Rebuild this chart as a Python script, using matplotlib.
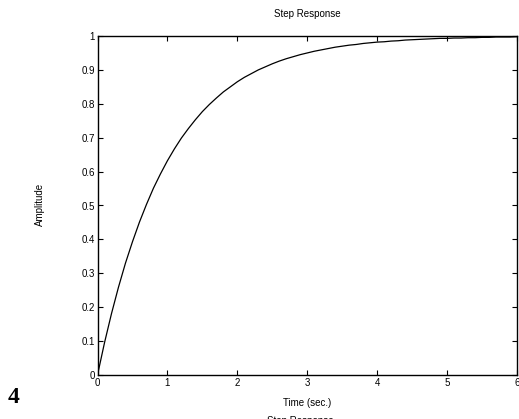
import numpy as np
import matplotlib
matplotlib.use("Agg")
import matplotlib.pyplot as plt

plt.rcParams['font.family'] = ['Liberation Sans', 'DejaVu Sans']

time = np.linspace(0, 6, 61)
amplitude = [0.0, 0.095, 0.181, 0.259, 0.330, 0.393, 0.451, 0.503, 0.551, 0.593,
             0.632, 0.667, 0.699, 0.727, 0.753, 0.777, 0.798, 0.817, 0.835, 0.850,
             0.865, 0.878, 0.889, 0.900, 0.909, 0.918, 0.926, 0.933, 0.939, 0.945,
             0.950, 0.955, 0.959, 0.963, 0.967, 0.970, 0.973, 0.975, 0.978, 0.980,
             0.982, 0.983, 0.985, 0.986, 0.988, 0.989, 0.990, 0.991, 0.992, 0.993,
             0.993, 0.994, 0.994, 0.995, 0.995, 0.996, 0.996, 0.997, 0.997, 0.997,
             0.998]
xticks = [0, 1, 2, 3, 4, 5, 6]
xticklabels = ['0', '1', '2', '3', '4', '5', '6']
yticks = [0, 0.1, 0.2, 0.3, 0.4, 0.5, 0.6, 0.7, 0.8, 0.9, 1.0]
yticklabels = ['0', '0.1', '0.2', '0.3', '0.4', '0.5', '0.6', '0.7', '0.8', '0.9', '1']

fig = plt.figure(figsize=(5.19, 4.19), dpi=100)
ax = fig.add_axes([97.5/519, 44/419, 419.5/519, 339/419])
ax.plot(time, amplitude, color='black', lw=0.9)
ax.set_xlim(0, 6)
ax.set_ylim(0, 1)
ax.set_xticks(xticks)
ax.set_xticklabels(xticklabels)
ax.set_yticks(yticks)
ax.set_yticklabels(yticklabels)
ax.tick_params(direction='in', length=3.5, width=0.8, labelsize=7, pad=2,
               top=True, right=True, colors='black')
for s in ax.spines.values():
    s.set_linewidth(1.0)

fig.text(307/519, 1 - 14/419, 'Step Response', ha='center', va='center', fontsize=7)
fig.text(307/519, 1 - 403/419, 'Time (sec.)', ha='center', va='center', fontsize=7)
fig.text(40/519, 1 - 204/419, 'Amplitude', ha='center', va='center', rotation=90, fontsize=7)
fig.text(300/519, 1 - 420.5/419, 'Step Response', ha='center', va='center', fontsize=7)
fig.text(8/519, 1 - 397/419, '4', ha='left', va='center', fontsize=17,
         fontweight='bold', family=['Liberation Serif', 'DejaVu Serif'])

fig.savefig('out.png', dpi=100)
